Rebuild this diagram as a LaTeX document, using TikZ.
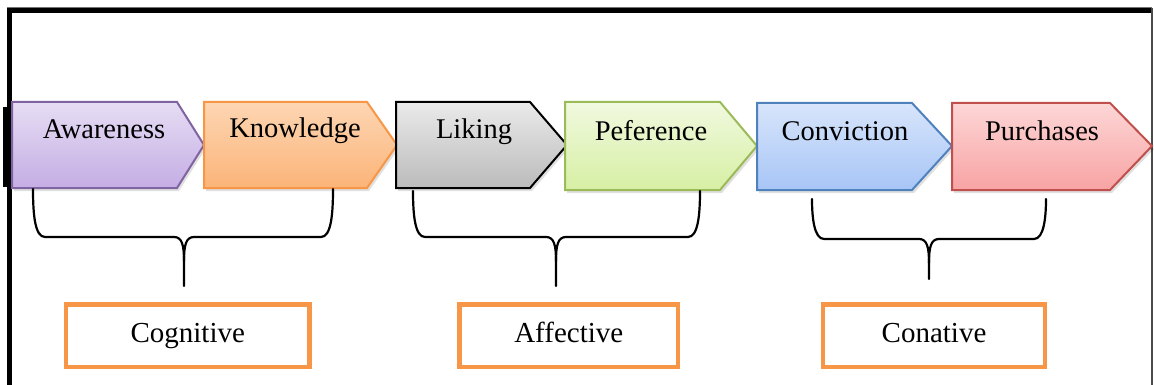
\documentclass[tikz,border=0pt]{standalone}
\usepackage{fontspec}
\setmainfont{Liberation Serif}
\definecolor{awB}{HTML}{8064A2}\definecolor{awT}{HTML}{E6DDF4}\definecolor{awD}{HTML}{C4ADE4}
\definecolor{knB}{HTML}{F79646}\definecolor{knT}{HTML}{FDD6B3}\definecolor{knD}{HTML}{FBB478}
\definecolor{liB}{HTML}{000000}\definecolor{liT}{HTML}{EAEAEA}\definecolor{liD}{HTML}{BBBBBB}
\definecolor{peB}{HTML}{9BBB59}\definecolor{peT}{HTML}{F1F9DF}\definecolor{peD}{HTML}{D6EFA4}
\definecolor{coB}{HTML}{4F81BD}\definecolor{coT}{HTML}{D8E5FB}\definecolor{coD}{HTML}{A7C5F6}
\definecolor{puB}{HTML}{C0504D}\definecolor{puT}{HTML}{FDD6D6}\definecolor{puD}{HTML}{F8A3A3}
\definecolor{lblorange}{HTML}{F79646}
\newcommand\chev[8]{% L F T top bot midy colourprefix unused
  \fill[black,opacity=0.12] (#1+2,#4+3) -- (#2+2,#4+3) -- (#3+2,#6+3) -- (#2+2,#5+3) -- (#1+2,#5+3) -- cycle;
  \shade[top color=#7T,bottom color=#7D] (#1,#4) -- (#2,#4) -- (#3,#6) -- (#2,#5) -- (#1,#5) -- cycle;
  \draw[#7B,line width=2pt,line join=miter] (#1,#4) -- (#2,#4) -- (#3,#6) -- (#2,#5) -- (#1,#5) -- cycle;
}
\newcommand\mybrace[6]{% L R C top H tip
  \draw[bracestyle] (#1,#4) .. controls (#1,#5-22) and (#1+2,#5) .. (#1+12,#5) -- (#3-10,#5)
     .. controls (#3-2,#5) and (#3,#5+8) .. (#3,#5+24) -- (#3,#6);
  \draw[bracestyle] (#3,#5+24) .. controls (#3,#5+8) and (#3+2,#5) .. (#3+10,#5) -- (#2-12,#5)
     .. controls (#2-2,#5) and (#2,#5-22) .. (#2,#4);
}
\tikzset{
  bracestyle/.style={black,line width=2.2pt,line cap=round,line join=round},
  chevtext/.style={anchor=base,inner sep=0pt,font=\fontsize{28.5}{34}\selectfont},
  lblbox/.style={draw=lblorange,line width=4.3pt,inner sep=0pt,text height=20pt,text depth=6pt,
    font=\fontsize{29}{35}\selectfont},
}
\begin{document}
\begin{tikzpicture}[x=1pt,y=-1pt]
\useasboundingbox (0,0) rectangle (1154,385);
\fill[white] (0,0) rectangle (1154,385);
% frame
\draw[black!55,line width=1.2pt] (7,7.5) -- (1152,7.5);
\draw[black,line width=4.8pt] (7,10.5) -- (1152,10.5);
\draw[black,line width=5pt] (9.5,8) -- (9.5,385);
\draw[black!70,line width=1.5pt] (1152,8) -- (1152,385);
\fill[black] (3,107) rectangle (12,187);
% chevrons
\chev{12}{177}{204}{102}{188}{145}{aw}{}
\chev{204}{367}{397}{102}{188}{145}{kn}{}
\chev{396}{530}{567}{102}{188}{145}{li}{}
\chev{565}{720}{757}{102}{190}{146}{pe}{}
\chev{757}{912}{952}{103}{190}{146}{co}{}
\chev{952}{1110}{1152}{103}{190}{146}{pu}{}
\node[chevtext] (aw) at (104,139) {Awareness};
\node[chevtext] (kn) at (295,138) {Knowledge};
\node[chevtext] (li) at (474,139) {Liking};
\node[chevtext] (pe) at (651,141) {Peference};
\node[chevtext] (co) at (845,141) {Conviction};
\node[chevtext] (pu) at (1042,141) {Purchases};
% braces
\mybrace{33}{333}{184}{189}{237}{286}
\mybrace{413}{700}{556}{191}{237}{286}
\mybrace{812}{1046}{929}{199}{239}{279}
% labels
\node[lblbox,minimum width=243.5pt,minimum height=62.5pt] (cog) at (187.75,335.75) {Cognitive};
\node[lblbox,minimum width=218.5pt,minimum height=62.5pt] (aff) at (568.75,335.75) {Affective};
\node[lblbox,minimum width=222pt,minimum height=62.5pt] (con) at (934,335.75) {Conative};
\end{tikzpicture}
\end{document}
